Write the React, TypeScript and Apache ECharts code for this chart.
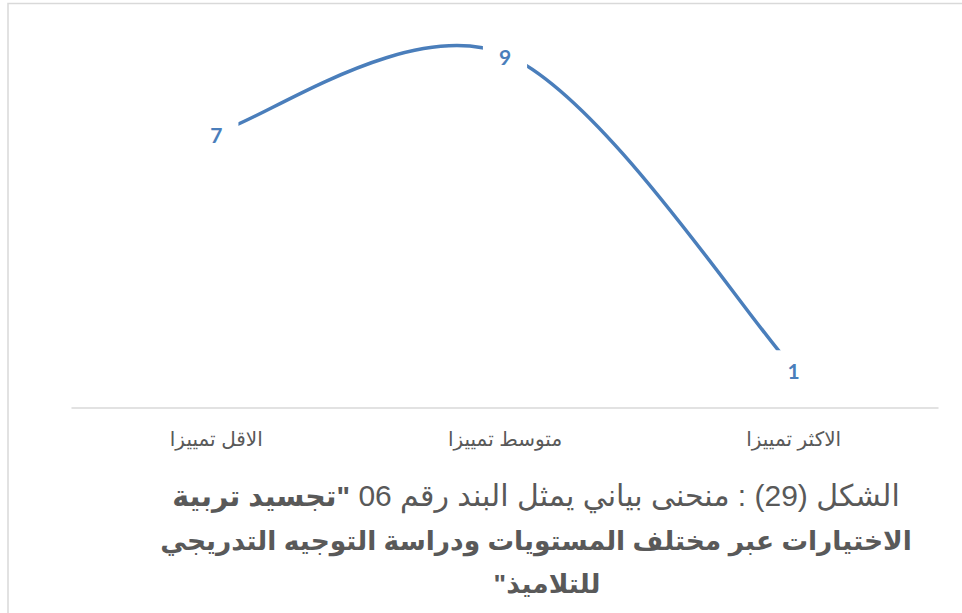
import React, { useEffect, useRef } from "react";
import * as echarts from "echarts";

// Item 06 response levels and counts
const categories: string[] = ["الاقل تمييزا", "متوسط تمييزا", "الاكثر تمييزا"];
const counts: number[] = [7, 9, 1];

// Figure caption, split where the bold run begins
const captionLead: string = "الشكل (29) : منحنى بياني يمثل البند رقم 06";
const captionBoldTail: string = "\"تجسيد تربية";
const captionLine2: string = "الاختيارات عبر مختلف المستويات ودراسة التوجيه التدريجي";
const captionLine3: string = "للتلاميذ\"";

const LATIN_FONT = "'Liberation Sans', Arial, 'DejaVu Sans', sans-serif";
const LABEL_FONT = "Lato, 'Open Sans', 'Liberation Sans', sans-serif";
const BLUE = "#4a7ebb";
const GREY_TEXT = "#595959";

// Wrap with right-to-left marks so neutral characters at the ends
// (quotes) resolve to the Arabic direction inside SVG text.
const rtl = (s: string) => "\u200F" + s + "\u200F";

function measure(text: string, size: number, weight: string): number {
  const c = document.createElement("canvas");
  const ctx = c.getContext("2d");
  if (!ctx) return text.length * size * 0.5;
  ctx.font = `${weight} ${size}px ${LATIN_FONT}`;
  return ctx.measureText(text).width;
}

// Cardinal (Catmull-Rom) spline through the projected points, giving the
// office-style smoothed line that may rise above its highest point.
function splinePath(pts: number[][]): string {
  if (!pts.length) return "";
  let d = `M${pts[0][0]},${pts[0][1]}`;
  for (let i = 0; i < pts.length - 1; i++) {
    const p0 = pts[Math.max(i - 1, 0)];
    const p1 = pts[i];
    const p2 = pts[i + 1];
    const p3 = pts[Math.min(i + 2, pts.length - 1)];
    const c1x = p1[0] + (p2[0] - p0[0]) / 6;
    const c1y = p1[1] + (p2[1] - p0[1]) / 6;
    const c2x = p2[0] - (p3[0] - p1[0]) / 6;
    const c2y = p2[1] - (p3[1] - p1[1]) / 6;
    d += ` C${c1x},${c1y} ${c2x},${c2y} ${p2[0]},${p2[1]}`;
  }
  return d;
}

export default function App() {
  const ref = useRef<HTMLDivElement>(null);

  useEffect(() => {
    if (!ref.current) return;
    const chart = echarts.init(ref.current, undefined, { renderer: "svg" });

    const regSize = 30;
    const boldSize = 26.5;
    const tailSize = 28.5;
    const cx = 536;
    const leadW = measure(rtl(captionLead), regSize, "normal");
    const gapW = measure(" ", regSize, "normal");
    const tailW = measure(rtl(captionBoldTail), tailSize, "bold");
    const line1Right = cx + (leadW + gapW + tailW) / 2;

    const capStyle = (weight: string, size: number) => ({
      fontSize: size,
      fontFamily: LATIN_FONT,
      fontWeight: weight,
      fill: GREY_TEXT,
      verticalAlign: "middle",
    });

    chart.setOption({
      animation: false,
      backgroundColor: "#ffffff",
      grid: { left: 72, right: 24, top: 15, bottom: 205 },
      xAxis: {
        type: "category",
        data: categories,
        boundaryGap: true,
        axisLine: { show: true, lineStyle: { color: "#d9d9d9", width: 1.5 } },
        axisTick: { show: false },
        splitLine: { show: false },
        axisLabel: {
          color: GREY_TEXT,
          fontSize: 20,
          fontFamily: LATIN_FONT,
          margin: 21,
        },
      },
      yAxis: {
        type: "value",
        min: 0,
        max: 10,
        show: false,
      },
      series: [
        {
          type: "custom",
          z: 1,
          silent: true,
          data: counts.map((v, i) => [i, v]),
          renderItem: (params: any, api: any) => {
            if (params.dataIndex !== 0) return null;
            const pts = counts.map((v, i) => api.coord([i, v]));
            return {
              type: "path",
              shape: { pathData: splinePath(pts) },
              style: { stroke: BLUE, lineWidth: 3.5, fill: "none", lineCap: "butt" },
            };
          },
        },
        {
          type: "line",
          z: 3,
          data: counts,
          symbol: "circle",
          symbolSize: 1,
          silent: true,
          lineStyle: { width: 0, color: "rgba(0,0,0,0)" },
          itemStyle: { color: "rgba(0,0,0,0)" },
          emphasis: { disabled: true },
          label: {
            show: true,
            position: "inside",
            offset: [0, 2],
            color: BLUE,
            fontSize: 21,
            fontWeight: "bold",
            fontFamily: LABEL_FONT,
            backgroundColor: "#ffffff",
            padding: [10, 16],
          },
        },
      ],
      graphic: [
        {
          type: "rect",
          silent: true,
          shape: { x: 8, y: 3.5, width: 1400, height: 900 },
          style: { fill: "none", stroke: "#d9d9d9", lineWidth: 1.5 },
        },
        {
          type: "text",
          silent: true,
          x: line1Right,
          y: 495,
          style: { ...capStyle("normal", regSize), text: rtl(captionLead), align: "right" },
        },
        {
          type: "text",
          silent: true,
          x: line1Right - leadW - gapW,
          y: 496,
          style: { ...capStyle("bold", tailSize), text: rtl(captionBoldTail), align: "right" },
        },
        {
          type: "text",
          silent: true,
          x: cx,
          y: 541,
          style: { ...capStyle("bold", boldSize), text: rtl(captionLine2), align: "center" },
        },
        {
          type: "text",
          silent: true,
          x: 547,
          y: 584,
          style: { ...capStyle("bold", boldSize), text: rtl(captionLine3), align: "center" },
        },
      ],
    });

    return () => chart.dispose();
  }, []);

  return (
    <div
      ref={ref}
      style={{ position: "fixed", left: 0, top: 0, width: 962, height: 613, background: "#fff" }}
    />
  );
}
